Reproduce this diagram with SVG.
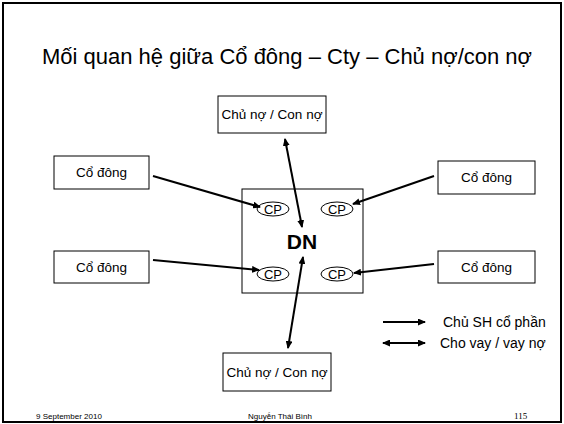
<svg xmlns="http://www.w3.org/2000/svg" width="564" height="424" viewBox="0 0 564 424">
  <style>
    text { font-family: "Liberation Sans", Arial, sans-serif; fill: #000; }
    .box { fill: #fff; stroke: #000; stroke-width: 1; }
    .cp { fill: #fff; stroke: #000; stroke-width: 1; }
    .lbl { font-size: 13.5px; text-anchor: middle; }
    .cpt { font-size: 13px; text-anchor: middle; }
    .link { stroke: #000; stroke-width: 2; fill: none; }
    .one { marker-end: url(#head); }
    .two { marker-start: url(#tail); marker-end: url(#head); }
    .foot { font-size: 8px; }
  </style>
  <defs>
    <marker id="head" markerUnits="userSpaceOnUse" markerWidth="8" markerHeight="7" refX="7" refY="3.5" orient="auto">
      <path d="M0,0 L8,3.5 L0,7 Z" fill="#000"/>
    </marker>
    <marker id="tail" markerUnits="userSpaceOnUse" markerWidth="8" markerHeight="7" refX="1" refY="3.5" orient="auto">
      <path d="M8,0 L0,3.5 L8,7 Z" fill="#000"/>
    </marker>
  </defs>

  <!-- slide frame -->
  <rect x="3" y="3" width="558" height="419" fill="#fff" stroke="#000" stroke-width="2"/>

  <!-- title -->
  <text x="287" y="64" font-size="22" text-anchor="middle">Mối quan hệ giữa Cổ đông – Cty – Chủ nợ/con nợ</text>

  <!-- company -->
  <g id="dn">
    <rect class="box" x="242" y="189" width="121" height="104"/>
    <text x="302" y="249" font-size="21" font-weight="bold" text-anchor="middle">DN</text>
  </g>
  <g id="cp-tl">
    <ellipse class="cp" cx="273" cy="209" rx="16" ry="7"/>
    <text class="cpt" x="273" y="214">CP</text>
  </g>
  <g id="cp-tr">
    <ellipse class="cp" cx="337" cy="209" rx="16" ry="7"/>
    <text class="cpt" x="337" y="214">CP</text>
  </g>
  <g id="cp-bl">
    <ellipse class="cp" cx="273" cy="274" rx="16" ry="7"/>
    <text class="cpt" x="273" y="279">CP</text>
  </g>
  <g id="cp-br">
    <ellipse class="cp" cx="337" cy="274" rx="16" ry="7"/>
    <text class="cpt" x="337" y="279">CP</text>
  </g>

  <!-- creditors / debtors -->
  <g id="creditor-top">
    <rect class="box" x="218" y="96" width="108" height="37"/>
    <text class="lbl" x="272" y="119" font-size="14">Chủ nợ / Con nợ</text>
  </g>
  <g id="creditor-bottom">
    <rect class="box" x="223" y="353" width="108" height="38"/>
    <text class="lbl" x="277" y="377" font-size="14">Chủ nợ / Con nợ</text>
  </g>

  <!-- shareholders -->
  <g id="sh-tl">
    <rect class="box" x="54" y="156" width="95" height="33"/>
    <text class="lbl" x="101.5" y="177">Cổ đông</text>
  </g>
  <g id="sh-tr">
    <rect class="box" x="438" y="161" width="97" height="33"/>
    <text class="lbl" x="486.5" y="182">Cổ đông</text>
  </g>
  <g id="sh-bl">
    <rect class="box" x="54" y="251" width="95" height="32"/>
    <text class="lbl" x="101.5" y="272">Cổ đông</text>
  </g>
  <g id="sh-br">
    <rect class="box" x="438" y="251" width="97" height="32"/>
    <text class="lbl" x="486.5" y="272">Cổ đông</text>
  </g>

  <!-- connectors -->
  <g id="connectors">
    <line class="link two" x1="285" y1="139" x2="302" y2="227"/>
    <line class="link two" x1="303" y1="257" x2="288" y2="348"/>
    <line class="link one" x1="153" y1="176" x2="260" y2="207"/>
    <line class="link one" x1="434" y1="176" x2="353" y2="204"/>
    <line class="link one" x1="153" y1="260" x2="259" y2="270"/>
    <line class="link one" x1="434" y1="264" x2="354" y2="273"/>
  </g>

  <!-- legend -->
  <g id="legend">
    <line class="link one" x1="383" y1="322" x2="425" y2="322"/>
    <text x="443" y="327" font-size="14">Chủ SH cổ phần</text>
    <line class="link two" x1="383" y1="343" x2="425" y2="343"/>
    <text x="440" y="348" font-size="14">Cho vay / vay nợ</text>
  </g>

  <!-- footer -->
  <text class="foot" x="36" y="419">9 September 2010</text>
  <text class="foot" x="280" y="419" text-anchor="middle">Nguyễn Thái Bình</text>
  <text x="514" y="419" font-size="9" style="font-family:'Liberation Serif', serif">115</text>
</svg>
